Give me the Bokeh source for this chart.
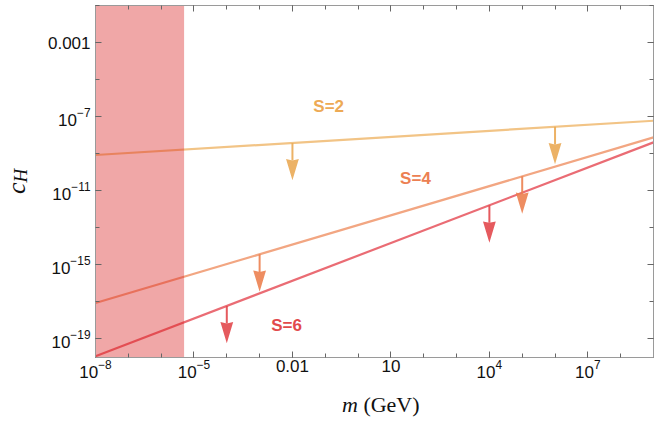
import numpy as np
from bokeh.plotting import figure
from bokeh.layouts import column, row
from bokeh.models import Range1d, FixedTicker, LogTickFormatter, LogAxis, Label, Div
from bokeh.embed import file_html
from bokeh.resources import INLINE

# ---------------- data ----------------
m_line = [1e-8, 1e9]
cH_S2 = [8.5e-10, 6.0e-8]
cH_S4 = [8.7e-18, 7.6e-9]
cH_S6 = [1.17e-20, 4.1e-9]

arrow_m_S2 = [1e-2, 1e6]
arrow_m_S4 = [1e-3, 1e5]
arrow_m_S6 = [1e-4, 1e4]

excluded_m = [1e-8, 5e-6]

label_text = ["S=2", "S=4", "S=6"]
label_m = [0.127, 56.0, 6.6e-3]
label_cH = [3.4e-7, 4.4e-11, 5.5e-19]

x_range = [1e-8, 1e9]
y_range = [1e-20, 1e-1]

x_major = [1e-8, 1e-5, 1e-2, 1e1, 1e4, 1e7]
x_minor = [1e-8, 1e-7, 1e-6, 1e-5, 1e-4, 1e-3, 1e-2, 1e-1, 1e0, 1e1, 1e2,
           1e3, 1e4, 1e5, 1e6, 1e7, 1e8, 1e9]
y_major = [1e-19, 1e-15, 1e-11, 1e-7, 1e-3]
y_minor = [1e-19, 1e-17, 1e-15, 1e-13, 1e-11, 1e-9, 1e-7, 1e-5, 1e-3, 1e-1]

# ---------------- styles ----------------
line_colors = ["#F2C486", "#F2A682", "#EA6C74"]
arrow_colors = ["#EAAA55", "#EC8150", "#E2484C"]
text_colors = ["#EDAA55", "#EC8052", "#E24A4C"]
AXIS_COL = "#9a9a9a"
TICK_COL = "#666666"

# arrow geometry in decades
ARROW_LEN = 2.02
HEAD_LEN = 1.15
HEAD_HALF_W = 0.195
NOTCH = 0.08

TOTAL_W, TOTAL_H = 655, 409
YT_W = 31            # width of the y-title column
FIG_H, XT_H = 387, 22
FIG_W = TOTAL_W - YT_W

p = figure(width=FIG_W, height=FIG_H, x_axis_type="log", y_axis_type="log",
           x_range=Range1d(*x_range), y_range=Range1d(*y_range),
           output_backend="svg", toolbar_location=None,
           min_border_left=64, min_border_right=2, min_border_top=5,
           min_border_bottom=30)
p.grid.visible = False
p.outline_line_color = AXIS_COL
p.background_fill_color = "white"

# main axes
for ax, maj, mnr in ((p.xaxis[0], x_major, x_minor), (p.yaxis[0], y_major, y_minor)):
    ax.ticker = FixedTicker(ticks=maj, minor_ticks=mnr)
    ax.formatter = LogTickFormatter(min_exponent=4)
    ax.axis_line_color = AXIS_COL
    ax.major_tick_line_color = TICK_COL
    ax.minor_tick_line_color = TICK_COL
    ax.major_tick_in = 6
    ax.major_tick_out = 0
    ax.minor_tick_in = 4
    ax.minor_tick_out = 0
    ax.major_label_text_font = "Liberation Sans"
    ax.major_label_text_font_size = "17px"
    ax.major_label_text_color = "#111111"
p.xaxis[0].major_label_standoff = 2
p.yaxis[0].major_label_standoff = 5

# mirror axes (ticks only)
for side, maj, mnr in (("above", x_major, x_minor), ("right", y_major, y_minor)):
    ax = LogAxis(ticker=FixedTicker(ticks=maj, minor_ticks=mnr))
    ax.major_label_text_font_size = "1px"
    ax.major_label_text_alpha = 0
    ax.major_label_standoff = 0
    ax.axis_line_color = AXIS_COL
    ax.major_tick_line_color = TICK_COL
    ax.minor_tick_line_color = TICK_COL
    ax.major_tick_in = 6
    ax.major_tick_out = 0
    ax.minor_tick_in = 4
    ax.minor_tick_out = 0
    p.add_layout(ax, side)

# lines
series = [cH_S2, cH_S4, cH_S6]
for cH, col in zip(series, line_colors):
    p.line(m_line, cH, line_color=col, line_width=2.2)

# excluded shaded region (on top, translucent)
p.quad(left=[excluded_m[0]], right=[excluded_m[1]], bottom=[y_range[0]],
       top=[y_range[1]], fill_color="#D92424", fill_alpha=0.4, line_color=None)

# arrows
arrow_ms = [arrow_m_S2, arrow_m_S4, arrow_m_S6]
for cH, am, col in zip(series, arrow_ms, arrow_colors):
    am = np.array(am)
    y0 = 10 ** np.interp(np.log10(am), np.log10(m_line), np.log10(cH))
    tip = y0 * 10 ** (-ARROW_LEN)
    base = tip * 10 ** HEAD_LEN
    p.segment(x0=am, y0=y0, x1=am, y1=base * 10 ** (-NOTCH), line_color=col,
              line_width=2, line_alpha=0.9)
    xs = [[x * 10 ** (-HEAD_HALF_W), x, x * 10 ** HEAD_HALF_W, x] for x in am]
    ys = [[b, b * 10 ** (-NOTCH), b, t] for b, t in zip(base, tip)]
    p.patches(xs, ys, fill_color=col, fill_alpha=0.9, line_color=None)

# series labels
for t, x, y, c in zip(label_text, label_m, label_cH, text_colors):
    p.add_layout(Label(x=x, y=y, text=t, text_color=c, text_font="Liberation Sans",
                       text_font_style="bold", text_font_size="17px",
                       text_align="center", text_baseline="middle"))

# y-axis title (rotated HTML text in a narrow column)
ytitle = Div(text=(
    f'<div style="position:relative;width:{YT_W}px;height:{TOTAL_H}px;">'
    '<div style="position:absolute;left:7px;top:194px;transform:rotate(-90deg);'
    'transform-origin:0 0;font-family:\'Liberation Serif\';font-size:26px;'
    'line-height:20px;font-style:italic;white-space:nowrap;color:#111111;">'
    'c<span style="font-size:19px;position:relative;top:2px;">H</span></div></div>'),
    width=YT_W, height=TOTAL_H, margin=(0, 0, 0, 0))

# x-axis title (below the figure)
xtitle = Div(text=(
    '<div style="font-family:\'Liberation Serif\';font-size:22px;color:#111111;'
    'line-height:22px;padding-left:311px;padding-top:7px;white-space:nowrap;">'
    '<i>m</i> (GeV)</div>'),
    width=FIG_W, height=XT_H, margin=(0, 0, 0, 0))

layout = row(ytitle, column(p, xtitle, spacing=0), spacing=0)
open("out.html", "w").write(file_html(layout, INLINE))
